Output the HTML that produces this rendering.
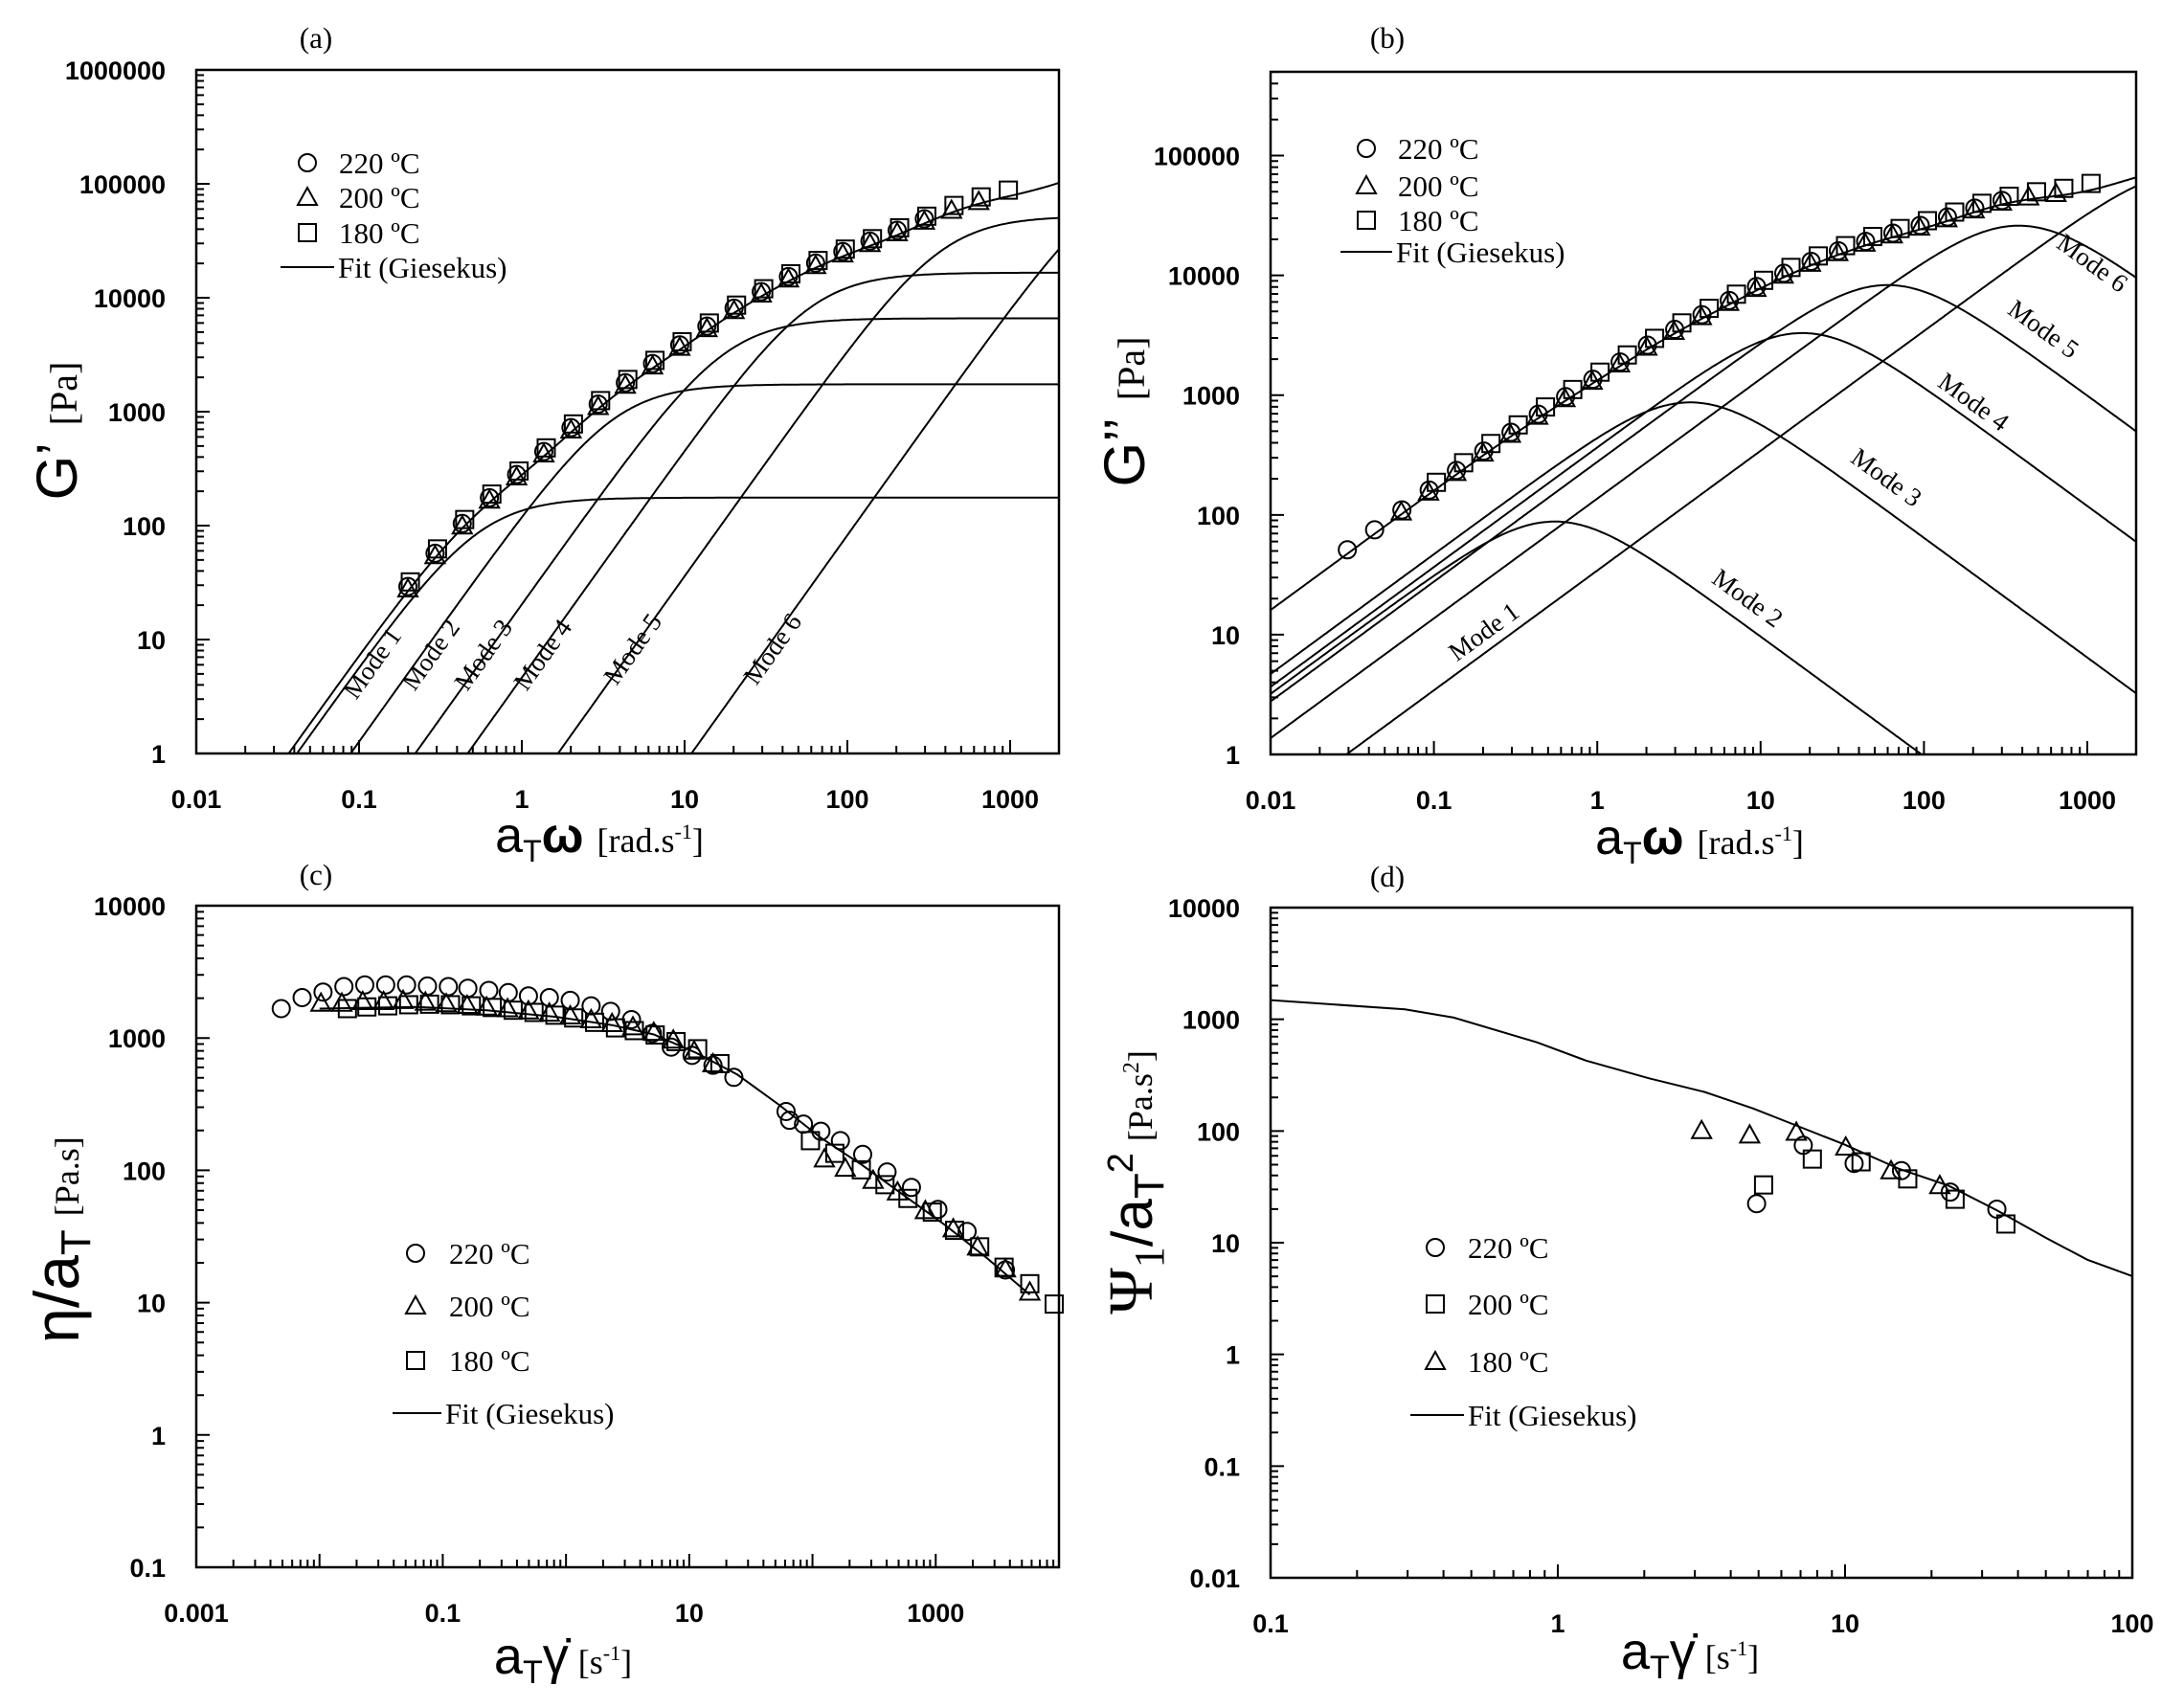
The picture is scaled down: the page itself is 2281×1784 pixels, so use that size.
<!DOCTYPE html>
<html><head><meta charset="utf-8"><style>
html,body{margin:0;padding:0;background:#fff;}
svg{display:block;}
.tk{font-family:"Liberation Sans",sans-serif;font-weight:bold;font-size:27px;fill:#000;}
.sr{font-family:"Liberation Serif",serif;font-size:31px;fill:#000;}
.md{font-family:"Liberation Serif",serif;font-size:27px;fill:#000;}
</style></head><body>
<svg id="s" xmlns="http://www.w3.org/2000/svg" width="2281" height="1784" viewBox="0 0 2281 1784">
<defs>
<clipPath id="ca"><rect x="205" y="73" width="901" height="714"/></clipPath>
<clipPath id="cb"><rect x="1327" y="75" width="904" height="713"/></clipPath>
<clipPath id="cc"><rect x="205" y="946" width="901" height="691"/></clipPath>
<clipPath id="cd"><rect x="1327" y="948" width="900" height="700"/></clipPath>
</defs>
<g id="g"></g>
<text class="sr" x="330" y="50" text-anchor="middle">(a)</text>
<text class="sr" x="1449" y="50" text-anchor="middle">(b)</text>
<text class="sr" x="330" y="924" text-anchor="middle">(c)</text>
<text class="sr" x="1449" y="926" text-anchor="middle">(d)</text>
<text transform="translate(80,450) rotate(-90)" text-anchor="middle"><tspan font-family="Liberation Sans,sans-serif" font-size="60">G’</tspan><tspan font-family="Liberation Serif,serif" font-size="40" dx="18">[Pa]</tspan></text>
<text transform="translate(1195,430) rotate(-90)" text-anchor="middle"><tspan font-family="Liberation Sans,sans-serif" font-size="60">G’’</tspan><tspan font-family="Liberation Serif,serif" font-size="40" dx="18">[Pa]</tspan></text>
<text transform="translate(82,1295) rotate(-90)" text-anchor="middle"><tspan font-family="Liberation Sans,sans-serif" font-size="66">η/a</tspan><tspan font-family="Liberation Sans,sans-serif" font-size="44" dy="12">T</tspan><tspan font-family="Liberation Serif,serif" font-size="36" dx="14" dy="-12">[Pa.s]</tspan></text>
<text transform="translate(1203,1235) rotate(-90)" text-anchor="middle"><tspan font-family="Liberation Serif,serif" font-size="66">Ψ</tspan><tspan font-family="Liberation Serif,serif" font-size="44" dy="12">1</tspan><tspan font-family="Liberation Sans,sans-serif" font-size="60" dy="-12">/a</tspan><tspan font-family="Liberation Sans,sans-serif" font-size="44" dy="12">T</tspan><tspan font-family="Liberation Sans,sans-serif" font-size="38" dy="-32">2</tspan><tspan font-family="Liberation Serif,serif" font-size="36" dx="12" dy="20">[Pa.s</tspan><tspan font-family="Liberation Serif,serif" font-size="24" dy="-14">2</tspan><tspan font-family="Liberation Serif,serif" font-size="36" dy="14">]</tspan></text>
<text x="626" y="890" text-anchor="middle"><tspan font-family="Liberation Sans,sans-serif" font-size="52">a</tspan><tspan font-family="Liberation Sans,sans-serif" font-size="32" dy="10">T</tspan><tspan font-family="Liberation Sans,sans-serif" font-size="52" font-weight="bold" dy="-10">ω</tspan><tspan font-family="Liberation Serif,serif" font-size="36" dx="14">[rad.s</tspan><tspan font-family="Liberation Serif,serif" font-size="22" dy="-14">-1</tspan><tspan font-family="Liberation Serif,serif" font-size="36" dy="14">]</tspan></text>
<text x="1775" y="892" text-anchor="middle"><tspan font-family="Liberation Sans,sans-serif" font-size="52">a</tspan><tspan font-family="Liberation Sans,sans-serif" font-size="32" dy="10">T</tspan><tspan font-family="Liberation Sans,sans-serif" font-size="52" font-weight="bold" dy="-10">ω</tspan><tspan font-family="Liberation Serif,serif" font-size="36" dx="14">[rad.s</tspan><tspan font-family="Liberation Serif,serif" font-size="22" dy="-14">-1</tspan><tspan font-family="Liberation Serif,serif" font-size="36" dy="14">]</tspan></text>
<text x="588" y="1748" text-anchor="middle"><tspan font-family="Liberation Sans,sans-serif" font-size="54">a</tspan><tspan font-family="Liberation Sans,sans-serif" font-size="34" dy="10">T</tspan><tspan font-family="Liberation Sans,sans-serif" font-size="54" dy="-10">γ̇</tspan><tspan font-family="Liberation Serif,serif" font-size="36" dx="10">[s</tspan><tspan font-family="Liberation Serif,serif" font-size="22" dy="-14">-1</tspan><tspan font-family="Liberation Serif,serif" font-size="36" dy="14">]</tspan></text>
<text x="1765" y="1743" text-anchor="middle"><tspan font-family="Liberation Sans,sans-serif" font-size="54">a</tspan><tspan font-family="Liberation Sans,sans-serif" font-size="34" dy="10">T</tspan><tspan font-family="Liberation Sans,sans-serif" font-size="54" dy="-10">γ̇</tspan><tspan font-family="Liberation Serif,serif" font-size="36" dx="10">[s</tspan><tspan font-family="Liberation Serif,serif" font-size="22" dy="-14">-1</tspan><tspan font-family="Liberation Serif,serif" font-size="36" dy="14">]</tspan></text>
<g class="md">
<text transform="translate(396,698) rotate(-54.5)" text-anchor="middle">Mode 1</text>
<text transform="translate(457,689) rotate(-54.5)" text-anchor="middle">Mode 2</text>
<text transform="translate(512,689) rotate(-54.5)" text-anchor="middle">Mode 3</text>
<text transform="translate(574,689) rotate(-54.5)" text-anchor="middle">Mode 4</text>
<text transform="translate(668,683) rotate(-54.5)" text-anchor="middle">Mode 5</text>
<text transform="translate(814,683) rotate(-54.5)" text-anchor="middle">Mode 6</text>
<text transform="translate(1555,667) rotate(-36)" text-anchor="middle">Mode 1</text>
<text transform="translate(1820,632) rotate(36)" text-anchor="middle">Mode 2</text>
<text transform="translate(1965,506) rotate(36)" text-anchor="middle">Mode 3</text>
<text transform="translate(2056,427) rotate(36)" text-anchor="middle">Mode 4</text>
<text transform="translate(2129,351) rotate(36)" text-anchor="middle">Mode 5</text>
<text transform="translate(2180,282) rotate(36)" text-anchor="middle">Mode 6</text>
</g>
</svg>
<script>
var NS="http://www.w3.org/2000/svg",G=document.getElementById("g");
function el(t,a,p){var e=document.createElementNS(NS,t);for(var k in a)e.setAttribute(k,a[k]);(p||G).appendChild(e);return e;}
function txt(s,a,p){var e=el("text",a,p);e.textContent=s;return e;}
function P(x0,x1,lx0,lx1,y0,y1,ly0,ly1){return{x0:x0,x1:x1,y0:y0,y1:y1,
 X:function(v){return x0+(Math.log10(v)-lx0)/(lx1-lx0)*(x1-x0);},
 Y:function(v){return y1-(Math.log10(v)-ly0)/(ly1-ly0)*(y1-y0);},lx0:lx0,lx1:lx1,ly0:ly0,ly1:ly1};}
var A=P(205,1106,-2,-2+901/170,73,787,0,6);
var B=P(1327,2231,-2,-2+904/170.6,75,788,0,5.70);
var C=P(205,1106,-3,4,946,1637,-1,4);
var D=P(1327,2227,-1,2,948,1648,-2,4);
function fmt(d){if(d>=0)return String(Math.pow(10,d));return (Math.pow(10,d)).toFixed(-d);}
function axes(p,ylab,xlab){
 el("rect",{x:p.x0,y:p.y0,width:p.x1-p.x0,height:p.y1-p.y0,fill:"none",stroke:"#000","stroke-width":2.5});
 var s="";
 for(var d=Math.floor(p.lx0);d<=Math.ceil(p.lx1);d++)for(var k=1;k<10;k++){var v=k*Math.pow(10,d),lv=Math.log10(v);if(lv<p.lx0-1e-9||lv>p.lx1+1e-9)continue;var x=p.X(v),L=k==1?14:8;s+="M"+x+" "+p.y1+"v"+(-L);}
 for(var d=Math.floor(p.ly0);d<=Math.ceil(p.ly1);d++)for(var k=1;k<10;k++){var v=k*Math.pow(10,d),lv=Math.log10(v);if(lv<p.ly0-1e-9||lv>p.ly1+1e-9)continue;var y=p.Y(v),L=k==1?14:8;s+="M"+p.x0+" "+y+"h"+L;}
 el("path",{d:s,stroke:"#000","stroke-width":2,fill:"none"});
 ylab.forEach(function(d){txt(fmt(d),{x:p.x0-32,y:p.Y(Math.pow(10,d))+10,"text-anchor":"end","class":"tk"});});
 xlab.forEach(function(d){txt(fmt(d),{x:p.X(Math.pow(10,d)),y:p.y1+57,"text-anchor":"middle","class":"tk"});});
}
axes(A,[0,1,2,3,4,5,6],[-2,-1,0,1,2,3]);
axes(B,[0,1,2,3,4,5],[-2,-1,0,1,2,3]);
axes(C,[-1,0,1,2,3,4],[-3,-1,1,3]);
axes(D,[-2,-1,0,1,2,3,4],[-1,0,1,2]);
var M=[[176,1.82],[1740,0.27],[6600,0.0556],[16600,0.0167],[52000,0.00263],[143000,2.4e-4]];
function gp(w,m){var t=w*m[1];return m[0]*t*t/(1+t*t);}
function gpp(w,m){var t=w*m[1];return m[0]*t/(1+t*t);}
function sum(f,w){var s=0;M.forEach(function(m){s+=f(w,m);});return s;}
function curve(p,fn,clip){var s="";for(var i=0;i<=400;i++){var lw=p.lx0+(p.lx1-p.lx0)*i/400,w=Math.pow(10,lw),v=fn(w);if(v<=0)continue;var y=p.Y(v);if(y>p.y1+400)y=p.y1+400;s+=(s?"L":"M")+p.X(w).toFixed(1)+" "+y.toFixed(1);}
 el("path",{d:s,stroke:"#000","stroke-width":2,fill:"none","clip-path":"url(#"+clip+")"});}
M.forEach(function(m){curve(A,function(w){return gp(w,m);},"ca");curve(B,function(w){return gpp(w,m);},"cb");});
curve(A,function(w){return sum(gp,w);},"ca");curve(B,function(w){return sum(gpp,w);},"cb");
function mk(t,x,y){var a={fill:"none",stroke:"#000","stroke-width":2};
 if(t=="o"){a.cx=x;a.cy=y;a.r=9;el("circle",a);}
 else if(t=="t"){a.points=(x)+","+(y-10)+" "+(x-10)+","+(y+8)+" "+(x+10)+","+(y+8);el("polygon",a);}
 else{a.x=x-9;a.y=y-9;a.width=18;a.height=18;el("rect",a);}}
function series(p,f,t,l0,l1,off){for(var lw=l0;lw<=l1+1e-6;lw+=0.167){var w=Math.pow(10,lw+off);mk(t,p.X(w),p.Y(f(w)*(t=="s"?1.08:1)));}}
series(A,function(w){return sum(gp,w)*1.05;},"t",-0.7,2.85,0);
series(A,function(w){return sum(gp,w)*1.05;},"s",-0.7,3.02,0.015);
series(A,function(w){return sum(gp,w)*1.1;},"o",-0.7,2.5,0);
series(B,function(w){return sum(gpp,w)*1.05;},"t",-1.2,2.85,0);
series(B,function(w){return sum(gpp,w)*1.05;},"s",-1.0,3.02,0.015);
series(B,function(w){return sum(gpp,w)*1.08;},"o",-1.53,2.5,0);
function zc(a){return [205+(a[0]-283)/1.375,946+(a[1]-98)/1.74];}
function zd(a){return [1327+(a[0]-257)/1.375,948+(a[1]-100)/1.74];}
function poly(pts,f,clip){el("path",{d:"M"+pts.map(function(a){var b=f(a);return b[0].toFixed(1)+" "+b[1].toFixed(1);}).join("L"),stroke:"#000","stroke-width":2,fill:"none","clip-path":"url(#"+clip+")"});}
poly([[460,285],[600,282],[700,288],[800,300],[880,315],[940,332],[1000,365],[1060,405],[1120,460],[1180,520],[1240,570],[1300,625],[1360,680],[1420,740],[1480,805]],zc,"cc");
[[405,285],[435,265],[465,255],[495,245],[525,242],[555,242],[585,242],[615,244],[645,245],[673,248],[703,252],[731,256],[760,262],[790,265],[820,270],[850,280],[878,290],[908,305],[938,330],[965,355],[995,370],[1025,388],[1055,410],[1130,472],[1135,488],[1155,495],[1180,508],[1208,525],[1240,550],[1275,582],[1310,610],[1348,650],[1390,690],[1445,760]].forEach(function(a){var b=zc(a);mk("o",b[0],b[1]);});
[[462,275],[492,275],[522,272],[552,272],[580,270],[612,273],[642,276],[672,279],[700,282],[730,285],[760,289],[790,293],[820,298],[850,305],[880,312],[910,318],[940,328],[968,342],[998,362],[1025,385],[1185,558],[1215,575],[1255,597],[1290,618],[1330,652],[1370,685],[1405,718],[1445,758],[1480,800]].forEach(function(a){var b=zc(a);mk("t",b[0],b[1]);});
[[500,285],[528,282],[558,280],[588,278],[618,277],[648,278],[678,280],[708,283],[738,288],[768,292],[798,297],[825,302],[855,310],[885,320],[912,325],[942,333],[972,345],[1003,358],[1035,385],[1165,525],[1200,548],[1238,578],[1272,605],[1305,630],[1340,655],[1372,688],[1408,718],[1443,755],[1480,785],[1515,822]].forEach(function(a){var b=zc(a);mk("s",b[0],b[1]);});
poly([[257,268],[450,285],[520,300],[640,345],[710,378],[800,410],[880,435],[950,465],[1010,495],[1080,530],[1160,575],[1230,605],[1300,650],[1370,700],[1430,740],[1495,770]],zd,"cd");
[[876,505],[945,513],[1012,508],[1083,535],[1148,578],[1218,605]].forEach(function(a){var b=zd(a);mk("t",b[0],b[1]);});
[[955,638],[1022,532],[1095,565],[1163,578],[1233,617],[1300,648]].forEach(function(a){var b=zd(a);mk("o",b[0],b[1]);});
[[965,604],[1035,557],[1105,562],[1172,593],[1240,630],[1313,675]].forEach(function(a){var b=zd(a);mk("s",b[0],b[1]);});
function leg(x,ys,labels,lx0,lx1,ly,tx){ys.forEach(function(y,i){mk(labels[i][0],x,y);txt(labels[i][1],{x:tx,y:y+11,"class":"sr"});});
 el("line",{x1:lx0,x2:lx1,y1:ly,y2:ly,stroke:"#000","stroke-width":2});txt("Fit (Giesekus)",{x:lx1+4,y:ly+11,"class":"sr"});}
leg(321,[170,206,243],[["o","220 ºC"],["t","200 ºC"],["s","180 ºC"]],293,349,279,354);
leg(1427,[155,194,230],[["o","220 ºC"],["t","200 ºC"],["s","180 ºC"]],1400,1454,263,1460);
leg(434,[1309,1364,1421],[["o","220 ºC"],["t","200 ºC"],["s","180 ºC"]],410,461,1476,469);
leg(1499,[1303,1362,1422],[["o","220 ºC"],["s","200 ºC"],["t","180 ºC"]],1473,1529,1478,1533);
</script>
</body></html>
